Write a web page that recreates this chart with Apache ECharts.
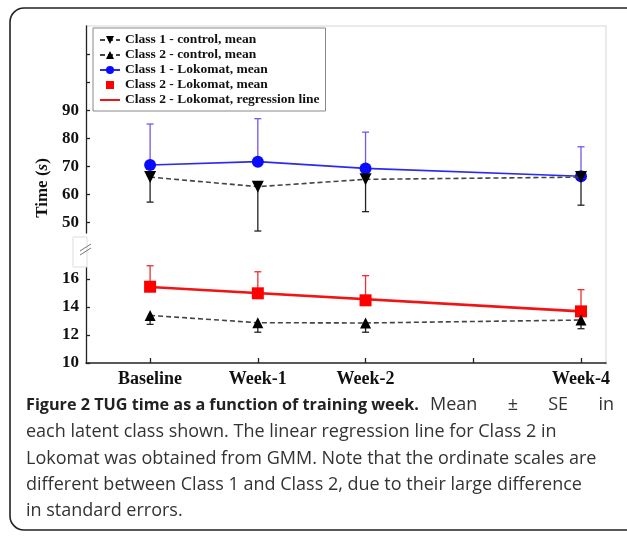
<!DOCTYPE html>
<html>
<head>
<meta charset="utf-8">
<script src="https://cdn.jsdelivr.net/npm/echarts@6/dist/echarts.min.js"></script>
<style>html,body{margin:0;padding:0;background:#fff;}#c{width:627px;height:537px;}</style>
</head>
<body>
<div id="c"></div>
<script>
// ---- data ----
const weeks = [0, 1, 2, 4];
const tickWeeks = [0, 1, 2, 3, 4];
const labelWeeks = [0, 1, 2, 4];
const weekNames = ['Baseline', 'Week-1', 'Week-2', 'Week-3', 'Week-4'];

const class1Control = [66.2, 62.8, 65.4, 66.2];
const class1ControlSE = [8.9, 15.8, 11.5, 10.0];
const class1Lokomat = [70.5, 71.7, 69.3, 66.5];
const class1LokomatSE = [14.6, 15.3, 12.9, 10.5];

const class2Control = [13.4, 12.88, 12.86, 13.07];
const class2ControlSE = [0.64, 0.68, 0.66, 0.62];
const class2Lokomat = [15.45, 14.98, 14.48, 13.69];
const class2LokomatSE = [1.5, 1.54, 1.76, 1.55];
const regWeeks = [0, 4];
const regValues = [15.43, 13.69];

const upperTicks = [50, 60, 70, 80, 90, 100, 110];
const upperLabels = [50, 60, 70, 80, 90];
const lowerTicks = [10, 12, 14, 16];

const captionBold = 'Figure 2 TUG time as a function of training week.';
const captionFirstWords = ['Mean', '\u00b1', 'SE', 'in'];
const captionLines = [
  'each latent class shown. The linear regression line for Class 2 in',
  'Lokomat was obtained from GMM. Note that the ordinate scales are',
  'different between Class 1 and Class 2, due to their large difference',
  'in standard errors.'
];

// ---- helpers ----
const serif = '"Liberation Serif", "Times New Roman", serif';
function pts(xs, ys) { return xs.map((x, i) => [x, ys[i]]); }
function errSeries(name, grid, xs, ys, se, dir, color) {
  return {
    type: 'custom', name: name, xAxisIndex: grid, yAxisIndex: grid, z: 1,
    data: xs.map((x, i) => [x, ys[i], se[i]]),
    renderItem: function (params, api) {
      const x = api.value(0), y = api.value(1), e = api.value(2);
      const p0 = api.coord([x, y]);
      const p1 = api.coord([x, dir > 0 ? y + e : y - e]);
      const cap = 3.5;
      const st = { stroke: color, lineWidth: 1.3 };
      return { type: 'group', children: [
        { type: 'line', shape: { x1: p0[0], y1: p0[1], x2: p1[0], y2: p1[1] }, style: st },
        { type: 'line', shape: { x1: p1[0] - cap, y1: p1[1], x2: p1[0] + cap, y2: p1[1] }, style: st }
      ]};
    }
  };
}

// justified placement of the words after the bold caption head
const capFont = '18px "Open Sans"';
const mctx = document.createElement('canvas').getContext('2d');
mctx.font = capFont;
const wWidths = captionFirstWords.map(w => mctx.measureText(w).width);
const jStart = 430, jEnd = 614;
const gap = (jEnd - jStart - wWidths.reduce((a, b) => a + b, 0)) / (captionFirstWords.length - 1);
const wordX = [];
{ let x = jStart; wWidths.forEach(w => { wordX.push(x); x += w + gap; }); }

const chart = echarts.init(document.getElementById('c'), null, { renderer: 'canvas' });
const xCommon = { type: 'value', min: -0.595, max: 4.232 };
const option = {
  animation: false,
  grid: [
    { left: 86, right: 21, top: 26, height: 207 },
    { left: 86, right: 21, top: 267, height: 96 }
  ],
  xAxis: [
    Object.assign({ gridIndex: 0, show: false }, xCommon),
    Object.assign({ gridIndex: 1 }, xCommon, {
      axisLine: { show: true, onZero: false, lineStyle: { color: '#222', width: 1.5 } },
      axisTick: { show: true, inside: true, length: 5, customValues: tickWeeks, lineStyle: { color: '#222', width: 1.3 } },
      axisLabel: { customValues: labelWeeks, margin: 7, color: '#111', fontFamily: serif, fontWeight: 'bold', fontSize: 18,
        formatter: v => weekNames[Math.round(v)] },
      splitLine: { show: false }
    })
  ],
  yAxis: [
    { type: 'value', gridIndex: 0, min: 46.3, max: 120,
      axisLine: { show: true, onZero: false, lineStyle: { color: '#222', width: 1.3 } },
      axisTick: { show: true, inside: true, length: 4, customValues: upperTicks, lineStyle: { color: '#222', width: 1.3 } },
      axisLabel: { customValues: upperLabels, margin: 7, color: '#111', fontFamily: serif, fontWeight: 'bold', fontSize: 17 },
      splitLine: { show: false } },
    { type: 'value', gridIndex: 1, min: 10, max: 16.86,
      axisLine: { show: true, onZero: false, lineStyle: { color: '#222', width: 1.3 } },
      axisTick: { show: true, inside: true, length: 4, customValues: lowerTicks, lineStyle: { color: '#222', width: 1.3 } },
      axisLabel: { customValues: lowerTicks, margin: 7, color: '#111', fontFamily: serif, fontWeight: 'bold', fontSize: 17 },
      splitLine: { show: false } }
  ],
  legend: {
    orient: 'vertical', left: 93, top: 28,
    backgroundColor: '#fff', borderColor: '#888', borderWidth: 1,
    padding: [5, 6, 4, 6], itemGap: 1, itemWidth: 20, itemHeight: 10,
    textStyle: { fontFamily: serif, fontWeight: 'bold', fontSize: 13.5, color: '#111' },
    data: ['Class 1 - control, mean', 'Class 2 - control, mean', 'Class 1 - Lokomat, mean',
           'Class 2 - Lokomat, mean', 'Class 2 - Lokomat, regression line']
  },
  series: [
    errSeries('e1', 0, weeks, class1Lokomat, class1LokomatSE, 1, '#7458ee'),
    errSeries('e2', 0, weeks, class1Control, class1ControlSE, -1, '#222'),
    errSeries('e3', 1, weeks, class2Lokomat, class2LokomatSE, 1, '#ee3030'),
    errSeries('e4', 1, weeks, class2Control, class2ControlSE, -1, '#222'),
    { type: 'line', name: 'Class 1 - Lokomat, mean', xAxisIndex: 0, yAxisIndex: 0, z: 3,
      data: pts(weeks, class1Lokomat), symbol: 'circle', symbolSize: 12,
      lineStyle: { color: '#2a2af5', width: 1.6 }, itemStyle: { color: '#0a0aff' } },
    { type: 'line', name: 'Class 1 - control, mean', xAxisIndex: 0, yAxisIndex: 0, z: 4,
      data: pts(weeks, class1Control), symbol: 'triangle', symbolRotate: 180, symbolSize: 12,
      lineStyle: { color: '#444', width: 1.6, type: [5, 3] }, itemStyle: { color: '#000' } },
    { type: 'line', name: 'Class 2 - Lokomat, regression line', xAxisIndex: 1, yAxisIndex: 1, z: 2,
      data: pts(regWeeks, regValues), symbol: 'circle', showSymbol: false,
      lineStyle: { color: '#f01414', width: 2.6 }, itemStyle: { color: 'rgba(0,0,0,0)' } },
    { type: 'line', name: 'Class 2 - Lokomat, mean', xAxisIndex: 1, yAxisIndex: 1, z: 3,
      data: pts(weeks, class2Lokomat), symbol: 'rect', symbolSize: 12,
      lineStyle: { opacity: 0, width: 0 }, itemStyle: { color: '#f00' } },
    { type: 'line', name: 'Class 2 - control, mean', xAxisIndex: 1, yAxisIndex: 1, z: 4,
      data: pts(weeks, class2Control), symbol: 'triangle', symbolSize: 11,
      lineStyle: { color: '#444', width: 1.6, type: [5, 3] }, itemStyle: { color: '#000' } }
  ],
  graphic: [
    { type: 'rect', z: -10, shape: { x: 10, y: 8, width: 640, height: 522, r: 14 },
      style: { fill: 'none', stroke: '#222', lineWidth: 1.6 } },
    { type: 'polyline', z: -5, shape: { points: [[86, 26], [606, 26], [606, 365]] },
      style: { fill: 'none', stroke: '#e4e4e4', lineWidth: 1.5 } },
    { type: 'rect', z: 50, shape: { x: 73, y: 237, width: 14, height: 30 },
      style: { fill: '#fff', stroke: '#ddd', lineWidth: 1 } },
    { type: 'line', z: 51, shape: { x1: 80, y1: 251, x2: 91, y2: 244 }, style: { stroke: '#777', lineWidth: 1 } },
    { type: 'line', z: 51, shape: { x1: 80, y1: 255, x2: 91, y2: 248 }, style: { stroke: '#777', lineWidth: 1 } },
    { type: 'text', z: 60, x: 43, y: 188, rotation: Math.PI / 2,
      style: { text: '{a|Time (}{b|s}{a|)}', align: 'center', verticalAlign: 'middle',
        rich: { a: { fontFamily: serif, fontWeight: 'bold', fontSize: 17, fill: '#111' },
                b: { fontFamily: serif, fontWeight: 'bold', fontStyle: 'italic', fontSize: 17, fill: '#111' } } } },
    { type: 'text', z: 60, x: 26, y: 405,
      style: { text: captionBold, verticalAlign: 'middle', fontFamily: '"Open Sans"', fontWeight: 'bold', fontSize: 16.2, fill: '#222' } }
  ].concat(captionFirstWords.map((w, i) => ({
    type: 'text', z: 60, x: wordX[i], y: 405,
    style: { text: w, verticalAlign: 'middle', fontFamily: '"Open Sans"', fontSize: 18, fill: '#333' }
  }))).concat(captionLines.map((t, i) => ({
    type: 'text', z: 60, x: 26, y: 432 + i * 26.4,
    style: { text: t, verticalAlign: 'middle', fontFamily: '"Open Sans"', fontSize: 18, fill: '#333' }
  })))
};
chart.setOption(option);
</script>
</body>
</html>
